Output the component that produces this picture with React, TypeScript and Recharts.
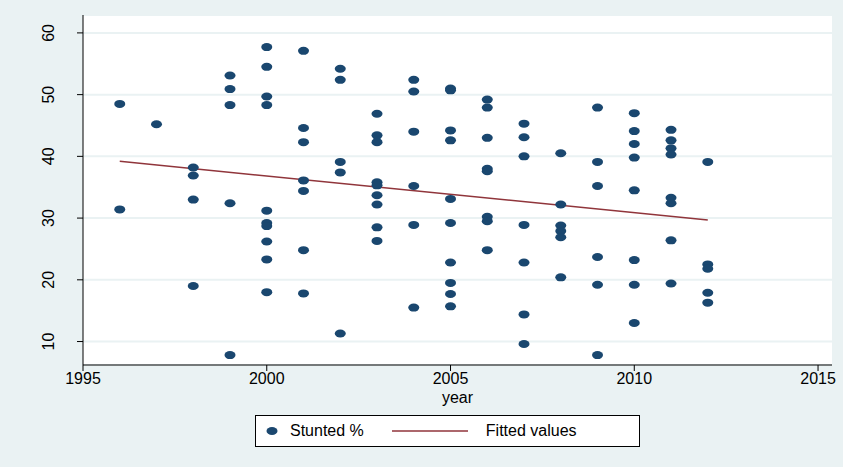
import React from 'react';
import { ComposedChart, Scatter, Line, XAxis, YAxis, CartesianGrid } from 'recharts';

const years = [1996, 1997, 1998, 1999, 2000, 2001, 2002, 2003, 2004, 2005, 2006, 2007, 2008, 2009, 2010, 2011, 2012];
const stunted: number[][] = [
  [48.5, 31.4],
  [45.2],
  [38.2, 36.9, 33.0, 19.0],
  [53.1, 50.9, 48.3, 32.4, 7.8],
  [57.7, 54.5, 49.7, 48.3, 31.2, 29.2, 28.7, 26.2, 23.3, 18.0],
  [57.1, 44.6, 42.3, 36.1, 34.4, 24.8, 17.8],
  [54.2, 52.4, 39.1, 37.4, 11.3],
  [46.9, 43.4, 42.3, 35.8, 35.3, 33.7, 32.2, 28.5, 26.3],
  [52.4, 50.5, 44.0, 35.2, 28.9, 15.5],
  [51.0, 50.7, 44.2, 42.6, 33.1, 29.2, 22.8, 19.5, 17.7, 15.7],
  [49.2, 47.9, 43.0, 38.0, 37.6, 30.2, 29.5, 24.8],
  [45.3, 43.1, 40.0, 28.9, 22.8, 14.4, 9.6],
  [40.5, 32.2, 28.8, 27.9, 26.9, 20.4],
  [47.9, 39.1, 35.2, 23.7, 19.2, 7.8],
  [47.0, 44.1, 42.0, 39.8, 34.5, 23.2, 19.2, 13.0],
  [44.3, 42.6, 41.3, 40.3, 33.3, 32.4, 26.4, 19.4],
  [39.1, 22.5, 21.8, 17.9, 16.3],
];
const fitYears = [1996, 2012];
const fitValues = [39.2, 29.7];
const xTicks = [1995, 2000, 2005, 2010, 2015];
const yTicks = [10, 20, 30, 40, 50, 60];

const points = years.flatMap((y, i) => stunted[i].map((v) => ({ year: y, value: v })));
const fitted = fitYears.map((y, i) => ({ year: y, value: fitValues[i] }));

const DOT = '#1a476f';
const FIT = '#90353b';
const BG = '#eaf2f3';
const font = 'Liberation Sans, Arial, sans-serif';

const Ellipse = (p: any) => <ellipse cx={p.cx} cy={p.cy} rx={5.5} ry={4} fill={DOT} />;

const YTick = (p: any) => {
  const x = p.x - 26;
  return (
    <text x={x} y={p.y} transform={`rotate(-90 ${x} ${p.y})`} textAnchor="middle" dominantBaseline="central" fontSize={16} fill="#000" fontFamily={font}>
      {p.payload.value}
    </text>
  );
};

export default function App() {
  return (
    <div style={{ position: 'absolute', left: 0, top: 0, width: 843, height: 467, background: BG, fontFamily: font }}>
      <ComposedChart width={843} height={467} margin={{ top: 15, right: 11, bottom: 72, left: 0 }}>
        <CartesianGrid horizontal vertical={false} fill="#fff" stroke={BG} strokeWidth={2} />
        <XAxis
          type="number"
          dataKey="year"
          domain={[1995, 2015.38]}
          ticks={xTicks}
          allowDataOverflow
          height={30}
          stroke="#000"
          tickSize={6}
          tick={{ fontSize: 16, fill: '#000', fontFamily: font }}
          label={{ value: 'year', position: 'insideBottom', offset: -8, fontSize: 16, fill: '#000' }}
        />
        <YAxis
          type="number"
          dataKey="value"
          domain={[6.2, 62.9]}
          ticks={yTicks}
          allowDataOverflow
          width={83}
          stroke="#000"
          tickSize={6}
          tick={<YTick />}
        />
        <Scatter data={points} dataKey="value" shape={<Ellipse />} isAnimationActive={false} />
        <Line data={fitted} dataKey="value" stroke={FIT} strokeWidth={1.5} dot={false} isAnimationActive={false} />
      </ComposedChart>
      <div style={{ position: 'absolute', left: 255, top: 415, width: 385, height: 32, background: '#fff', border: '1px solid #000', boxSizing: 'border-box', display: 'flex', alignItems: 'center', fontSize: 16 }}>
        <svg width={12} height={10} style={{ marginLeft: 10 }}><ellipse cx={6} cy={5} rx={5.5} ry={4} fill={DOT} /></svg>
        <span style={{ marginLeft: 12 }}>Stunted %</span>
        <svg width={76} height={10} style={{ marginLeft: 28 }}><line x1={0} y1={5} x2={76} y2={5} stroke={FIT} strokeWidth={1.5} /></svg>
        <span style={{ marginLeft: 18 }}>Fitted values</span>
      </div>
    </div>
  );
}
